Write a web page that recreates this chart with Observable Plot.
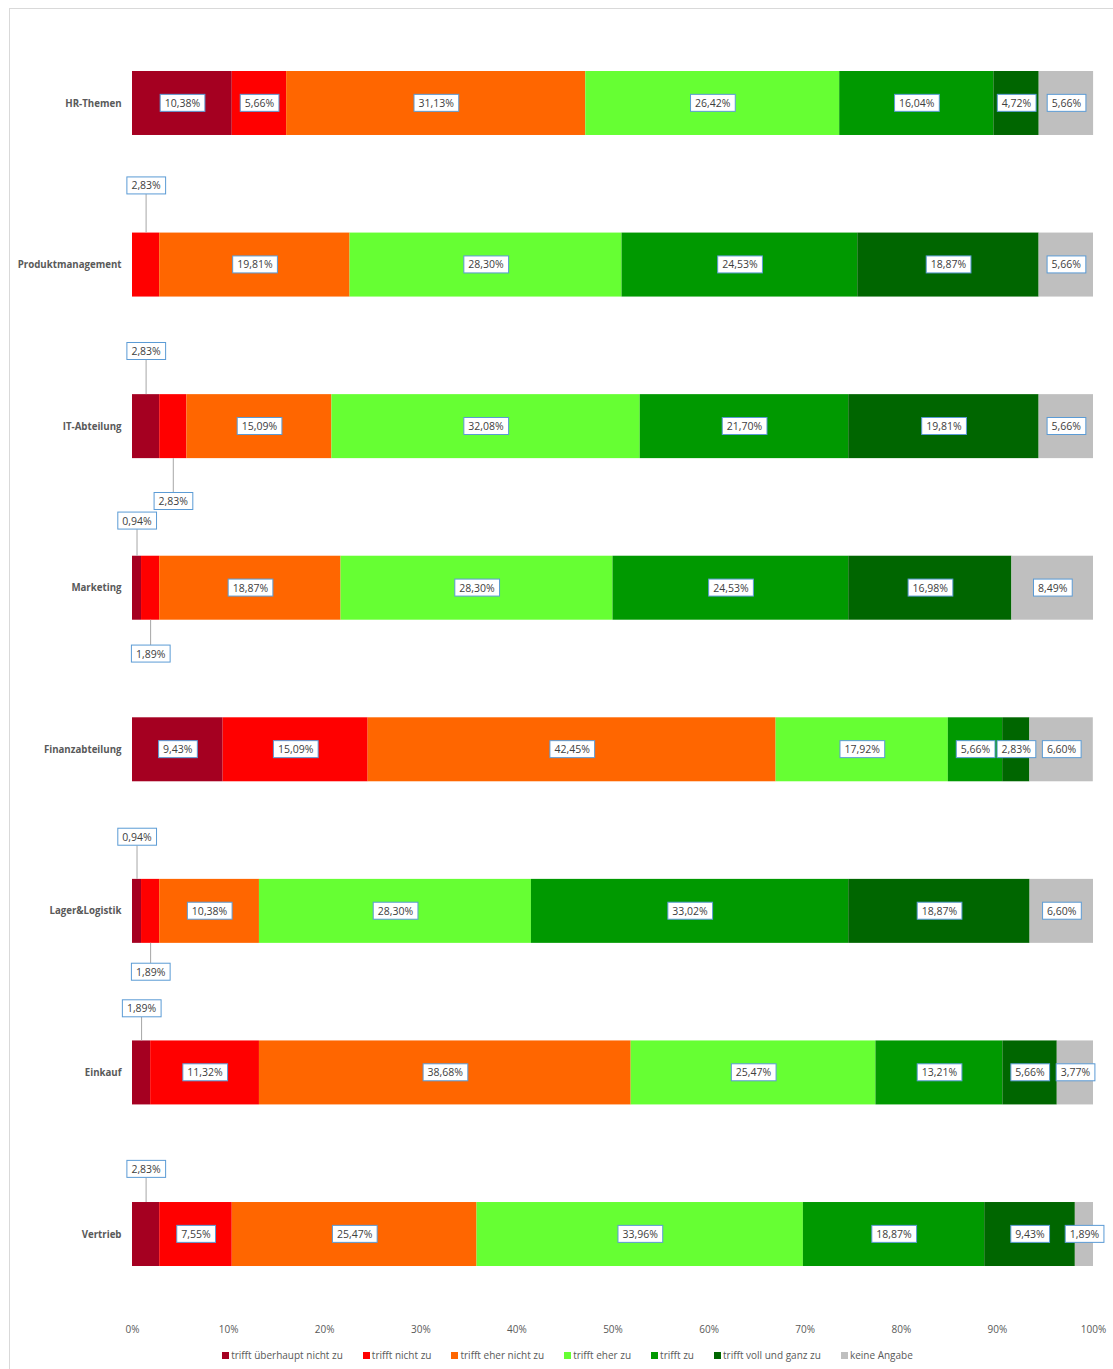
<!DOCTYPE html>
<html>
<head>
<meta charset="utf-8">
<script src="https://cdn.jsdelivr.net/npm/d3@7"></script>
<script src="https://cdn.jsdelivr.net/npm/@observablehq/plot@0.6"></script>
<style>
  body { margin: 0; background: #fff; font-family: "Open Sans", sans-serif; }
  #wrap { position: relative; width: 1113px; height: 1369px; overflow: hidden; }
  #frame { position: absolute; left: 9px; top: 8px; right: -5px; bottom: -5px;
           border-left: 1px solid #d9d9d9; border-top: 1px solid #d9d9d9; pointer-events: none; }
  #chart { position: absolute; left: 0; top: 0; }
  #legend { position: absolute; left: 0; top: 1342px; width: 1135px; height: 26px;
            display: flex; justify-content: center; align-items: center; gap: 20px;
            font-size: 10px; color: #595959; }
  #legend .item { display: flex; align-items: center; gap: 2px; white-space: nowrap; }
  #legend .sw { width: 7px; height: 7px; display: inline-block; }
</style>
</head>
<body>
<div id="wrap">
  <div id="chart"></div>
  <div id="legend"></div>
  <div id="frame"></div>
</div>
<script>
// Departments (one bar each)
const categories = ["HR-Themen", "Produktmanagement", "IT-Abteilung", "Marketing",
                    "Finanzabteilung", "Lager&Logistik", "Einkauf", "Vertrieb"];

// Answer categories (stack order) and their colours
const seriesNames = ["trifft überhaupt nicht zu", "trifft nicht zu", "trifft eher nicht zu",
                     "trifft eher zu", "trifft zu", "trifft voll und ganz zu", "keine Angabe"];
const seriesColors = ["#A50021", "#FF0000", "#FF6600", "#66FF33", "#009900", "#006600", "#BFBFBF"];

// Shares in percent, one array per answer, in department order
const ueberhauptNicht = [10.38, 0, 2.83, 0.94, 9.43, 0.94, 1.89, 2.83];
const nichtZu         = [5.66, 2.83, 2.83, 1.89, 15.09, 1.89, 11.32, 7.55];
const eherNicht       = [31.13, 19.81, 15.09, 18.87, 42.45, 10.38, 38.68, 25.47];
const eherZu          = [26.42, 28.30, 32.08, 28.30, 17.92, 28.30, 25.47, 33.96];
const trifftZu        = [16.04, 24.53, 21.70, 24.53, 5.66, 33.02, 13.21, 18.87];
const vollUndGanz     = [4.72, 18.87, 19.81, 16.98, 2.83, 18.87, 5.66, 9.43];
const keineAngabe     = [5.66, 5.66, 5.66, 8.49, 6.60, 6.60, 3.77, 1.89];
const seriesValues = [ueberhauptNicht, nichtZu, eherNicht, eherZu, trifftZu, vollUndGanz, keineAngabe];

// Axis ticks (percent)
const xTicks = [0, 10, 20, 30, 40, 50, 60, 70, 80, 90, 100];

// Narrow segments labelled outside the bar with a leader line (dy = label offset in px)
const callouts = [
  {cat: "Produktmanagement", series: "trifft nicht zu", dy: -79},
  {cat: "IT-Abteilung", series: "trifft überhaupt nicht zu", dy: -75},
  {cat: "IT-Abteilung", series: "trifft nicht zu", dy: 75},
  {cat: "Marketing", series: "trifft überhaupt nicht zu", dy: -67},
  {cat: "Marketing", series: "trifft nicht zu", dy: 66},
  {cat: "Lager&Logistik", series: "trifft überhaupt nicht zu", dy: -74},
  {cat: "Lager&Logistik", series: "trifft nicht zu", dy: 61},
  {cat: "Einkauf", series: "trifft überhaupt nicht zu", dy: -64},
  {cat: "Vertrieb", series: "trifft überhaupt nicht zu", dy: -65}
];

const rows = categories.flatMap((cat, i) =>
  seriesNames.map((series, j) => ({cat, series, value: seriesValues[j][i]})));

const fmt = v => v.toFixed(2).replace(".", ",") + "%";
const isCallout = d => callouts.some(c => c.cat === d.cat && c.series === d.series);

// layout
const W = 1113, H = 1342, MT = 22.2, MB = 27.2;
const padIn = 0.604, padOut = padIn / 2;
const step = (H - MT - MB) / (categories.length - padIn + 2 * padOut);
const bw = step * (1 - padIn);
const boxHalf = 8.5;

const labelStyle = {fill: "#404040", fontSize: 10.5, className: "boxed"};

const calloutMarks = callouts.flatMap(c => {
  const sel = d => d.cat === c.cat && d.series === c.series;
  const above = c.dy < 0;
  const len = Math.abs(c.dy) - boxHalf - bw / 2;
  const tickOpts = above
    ? {insetTop: 0, insetBottom: bw - len, dy: -len}
    : {insetTop: bw - len, insetBottom: 0, dy: len};
  return [
    Plot.tickX(rows, Plot.filter(sel, Plot.stackX({x: "value", y: "cat", stroke: "#A6A6A6", strokeWidth: 1, ...tickOpts}))),
    Plot.text(rows, Plot.filter(sel, Plot.stackX({x: "value", y: "cat", text: d => fmt(d.value), dy: c.dy, ...labelStyle})))
  ];
});

const chart = Plot.plot({
  width: W,
  height: H,
  marginLeft: 132,
  marginRight: 20,
  marginTop: MT,
  marginBottom: MB,
  style: {fontFamily: "'Open Sans', sans-serif", fontSize: "10px", color: "#595959", background: "transparent"},
  x: {domain: [0, 100]},
  y: {domain: categories, paddingInner: padIn, paddingOuter: padOut, round: false},
  color: {domain: seriesNames, range: seriesColors},
  marks: [
    Plot.barX(rows, Plot.stackX({x: "value", y: "cat", fill: "series"})),
    Plot.text(rows, Plot.filter(d => d.value > 0 && !isCallout(d),
      Plot.stackX({x: "value", y: "cat", text: d => fmt(d.value), ...labelStyle}))),
    ...calloutMarks,
    Plot.axisY({tickSize: 0, tickPadding: 11, fontWeight: "bold", fontSize: 9.7, label: null}),
    Plot.axisX({ticks: xTicks, tickFormat: d => d + "%", tickSize: 0, tickPadding: 11, fontSize: 10, label: null})
  ]
});
document.getElementById("chart").appendChild(chart);

// white label boxes with a thin blue outline behind each value label
chart.querySelectorAll("g.boxed text").forEach(t => {
  const b = t.getBBox();
  if (!b.width) return;
  const r = document.createElementNS("http://www.w3.org/2000/svg", "rect");
  const h = 17, padX = 4.5;
  r.setAttribute("x", b.x - padX);
  r.setAttribute("y", b.y + b.height / 2 - h / 2);
  r.setAttribute("width", b.width + 2 * padX);
  r.setAttribute("height", h);
  r.setAttribute("fill", "#fff");
  r.setAttribute("stroke", "#5B9BD5");
  r.setAttribute("stroke-width", 1);
  const tr = t.getAttribute("transform");
  if (tr) r.setAttribute("transform", tr);
  t.parentNode.insertBefore(r, t);
});

// legend
const legend = document.getElementById("legend");
seriesNames.forEach((name, i) => {
  const item = document.createElement("span");
  item.className = "item";
  const sw = document.createElement("span");
  sw.className = "sw";
  sw.style.background = seriesColors[i];
  const label = document.createElement("span");
  label.textContent = name;
  item.appendChild(sw);
  item.appendChild(label);
  legend.appendChild(item);
});
</script>
</body>
</html>
